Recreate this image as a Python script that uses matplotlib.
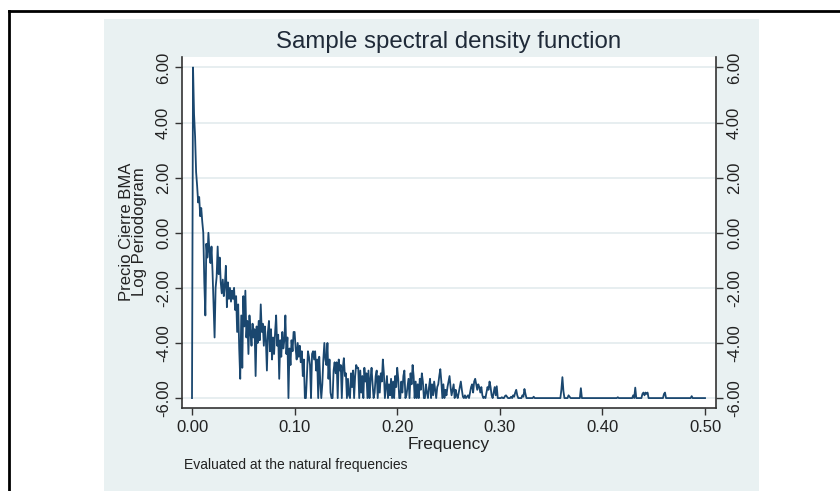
import numpy as np
import matplotlib
matplotlib.use('Agg')
import matplotlib.pyplot as plt
from matplotlib.patches import Rectangle
from matplotlib.lines import Line2D
from matplotlib.ticker import FormatStrFormatter

# log periodogram of the closing price, clipped to [-6, 6] like Stata's pergram
# one row per 0.01 of frequency
log_pergram = [
    -6.0, 6.0, 4.3, 3.5, 2.2, 1.7, 1.1, 1.3, 0.6, 0.9,
    0.4, 0.0, -1.8, -3.0, -0.4, -0.9, 0.0, -0.7, -1.1, -0.5,
    -1.4, -2.6, -3.8, -2.0, -1.6, -0.5, -1.5, -0.9, -1.8, -2.2,
    -1.7, -2.3, -1.9, -1.2, -2.7, -1.8, -2.4, -2.0, -2.5, -2.1,
    -2.4, -2.0, -2.8, -2.3, -3.6, -2.6, -4.2, -5.3, -3.0, -4.9,
    -2.3, -3.4, -2.1, -3.8, -3.2, -4.4, -3.0, -3.6, -4.1, -3.3,
    -3.8, -3.5, -5.2, -3.4, -4.0, -3.2, -3.9, -2.6, -3.6, -3.3,
    -4.1, -3.4, -3.9, -5.0, -3.6, -3.2, -4.3, -3.5, -4.6, -3.8,
    -4.4, -3.6, -3.0, -4.1, -3.7, -5.3, -3.9, -4.5, -3.6, -4.2,
    -3.9, -3.0, -4.4, -3.8, -6.0, -4.2, -4.8, -3.9, -4.3, -3.6,
    -3.6, -4.2, -4.6, -4.0, -4.5, -4.1, -4.7, -4.3, -5.2, -4.6,
    -6.0, -6.0, -5.2, -4.3, -4.5, -4.8, -6.0, -4.4, -4.3, -4.6,
    -4.3, -5.0, -4.6, -6.0, -4.5, -5.4, -6.0, -5.5, -4.6, -4.0,
    -4.6, -4.8, -4.0, -5.3, -4.6, -5.8, -6.0, -6.0, -5.0, -4.7,
    -5.1, -4.7, -6.0, -4.6, -5.0, -4.8, -6.0, -4.9, -4.55, -5.2,
    -5.1, -6.0, -5.3, -5.9, -6.0, -5.1, -5.6, -5.0, -6.0, -5.2,
    -4.8, -4.9, -4.9, -6.0, -5.0, -5.8, -5.2, -6.0, -4.9, -5.4,
    -5.1, -6.0, -5.0, -6.0, -5.3, -4.9, -5.5, -6.0, -5.8, -5.2,
    -5.0, -6.0, -5.2, -5.8, -5.1, -5.4, -4.6, -5.1, -6.0, -5.6,
    -5.2, -6.0, -5.5, -5.9, -5.3, -6.0, -5.4, -6.0, -5.2, -5.6,
    -4.9, -5.3, -6.0, -6.0, -5.4, -5.8, -5.2, -5.0, -6.0, -5.9,
    -5.6, -5.3, -6.0, -5.1, -5.5, -4.8, -5.2, -6.0, -5.4, -6.0,
    -5.5, -6.0, -5.3, -5.7, -5.1, -5.4, -6.0, -6.0, -5.5, -5.8,
    -6.0, -5.6, -5.3, -6.0, -5.5, -5.9, -5.4, -5.7, -6.0, -5.6,
    -5.5, -5.2, -4.95, -5.4, -6.0, -5.5, -6.0, -5.7, -5.9, -5.6,
    -5.4, -5.2, -5.6, -5.9, -5.7, -5.5, -6.0, -5.7, -5.9, -6.0,
    -5.8, -5.6, -5.4, -5.7, -5.95, -6.0, -5.9, -6.0, -5.95, -5.9,
    -6.0, -5.8, -5.6, -5.5, -5.8, -5.4, -5.3, -5.5, -5.7, -5.5,
    -5.6, -5.8, -5.6, -5.9, -6.0, -5.95, -6.0, -5.8, -5.6, -5.7,
    -5.4, -5.6, -5.9, -6.0, -5.8, -5.6, -5.9, -5.57, -6.0, -6.0,
    -6.0, -6.0, -5.97, -6.0, -6.0, -5.93, -5.9, -5.95, -6.0, -6.0,
    -6.0, -5.95, -6.0, -5.9, -5.95, -5.8, -5.7, -5.9, -6.0, -6.0,
    -6.0, -6.0, -5.9, -5.95, -5.67, -5.85, -6.0, -6.0, -6.0, -6.0,
    -6.0, -6.0, -6.0, -5.95, -6.0, -6.0, -6.0, -6.0, -6.0, -6.0,
    -6.0, -6.0, -6.0, -6.0, -6.0, -6.0, -6.0, -6.0, -6.0, -6.0,
    -6.0, -6.0, -6.0, -6.0, -6.0, -6.0, -6.0, -6.0, -6.0, -6.0,
    -5.7, -5.24, -5.75, -6.0, -6.0, -6.0, -6.0, -5.9, -5.95, -6.0,
    -6.0, -6.0, -6.0, -6.0, -6.0, -6.0, -6.0, -6.0, -6.0, -5.64,
    -6.0, -6.0, -6.0, -6.0, -6.0, -6.0, -6.0, -6.0, -6.0, -6.0,
    -6.0, -6.0, -6.0, -6.0, -6.0, -6.0, -6.0, -6.0, -6.0, -6.0,
    -6.0, -6.0, -6.0, -6.0, -6.0, -6.0, -6.0, -6.0, -6.0, -6.0,
    -6.0, -6.0, -6.0, -6.0, -6.0, -5.97, -6.0, -6.0, -6.0, -6.0,
    -6.0, -6.0, -6.0, -6.0, -6.0, -6.0, -6.0, -6.0, -6.0, -6.0,
    -5.9, -6.0, -5.62, -6.0, -6.0, -6.0, -6.0, -6.0, -6.0, -5.85,
    -5.8, -5.9, -5.8, -5.85, -5.8, -6.0, -6.0, -6.0, -6.0, -6.0,
    -6.0, -6.0, -6.0, -6.0, -6.0, -6.0, -6.0, -6.0, -6.0, -6.0,
    -5.85, -5.8, -6.0, -6.0, -6.0, -6.0, -6.0, -6.0, -6.0, -6.0,
    -6.0, -6.0, -6.0, -6.0, -6.0, -6.0, -6.0, -6.0, -6.0, -6.0,
    -6.0, -6.0, -6.0, -6.0, -6.0, -6.0, -6.0, -5.93, -6.0, -6.0,
    -6.0, -6.0, -6.0, -6.0, -6.0, -6.0, -6.0, -6.0, -6.0, -6.0,
    -6.0,
]
# natural frequencies k/n from 0 to 0.5
freq = np.arange(len(log_pergram)) / (2.0 * (len(log_pergram) - 1))

y_ticks = [-6, -4, -2, 0, 2, 4, 6]
x_ticks = [0.0, 0.1, 0.2, 0.3, 0.4, 0.5]

navy = '#1a476f'
panel = '#e9f1f2'
grid = '#e3ebee'
txt = '#222222'

plt.rcParams['font.family'] = ['Liberation Sans', 'DejaVu Sans']
narrow = ['Liberation Sans Narrow', 'Liberation Sans', 'DejaVu Sans']

W, H = 840, 491
fig = plt.figure(figsize=(W / 100, H / 100), dpi=100)
fig.patch.set_facecolor('white')

# graph region and the outer frame
fig.add_artist(Rectangle((104 / W, 0), (759 - 104) / W, 1 - 19 / H,
                         transform=fig.transFigure, facecolor=panel,
                         edgecolor='none', zorder=0))
fig.add_artist(Line2D([9 / W, 9 / W], [0, 1 - 11 / H], color='black', lw=2,
                      transform=fig.transFigure))
fig.add_artist(Line2D([9 / W, 1], [1 - 11 / H, 1 - 11 / H], color='black', lw=2,
                      transform=fig.transFigure))

ax = fig.add_axes([182 / W, 1 - 408 / H, (716 - 182) / W, (408 - 57) / H])
ax.set_facecolor('white')
ax.plot(freq, log_pergram, color=navy, lw=1.3, zorder=3)

ax.set_xlim(-0.00975, 0.5107)
ax.set_ylim(-6.36, 6.38)
ax.set_xticks(x_ticks)
ax.set_yticks(y_ticks)
ax.xaxis.set_major_formatter(FormatStrFormatter('%.2f'))
ax.yaxis.set_major_formatter(FormatStrFormatter('%.2f'))
ax.grid(axis='y', color=grid, lw=1.2, zorder=0)

ax.spines['top'].set_visible(False)
for side in ['left', 'bottom', 'right']:
    ax.spines[side].set_color('#333333')
    ax.spines[side].set_linewidth(1.2)

ax.tick_params(axis='x', length=5, width=1, color='#333333', labelsize=12,
               labelcolor=txt, pad=4)
ax.tick_params(axis='y', length=5, width=1, color='#333333', labelsize=12,
               labelcolor=txt, right=True, labelright=True, labelrotation=90,
               pad=3)
for lab in ax.get_yticklabels():
    lab.set_verticalalignment('center')

fig.text(449 / W, 1 - 42 / H, 'Sample spectral density function', ha='center',
         va='center', fontsize=17.3, color='#1f2a38')
fig.text(133 / W, 1 - 232 / H, 'Precio Cierre BMA\nLog Periodogram', ha='center',
         va='center', rotation=90, fontsize=12, color=txt, linespacing=0.8,
         multialignment='center')
fig.text(449 / W, 1 - 445 / H, 'Frequency', ha='center', va='center',
         fontsize=12.5, color=txt, family=narrow)
fig.text(184 / W, 1 - 465 / H, 'Evaluated at the natural frequencies', ha='left',
         va='center', fontsize=10, color=txt, family=narrow)

fig.savefig('out.png', dpi=100)
